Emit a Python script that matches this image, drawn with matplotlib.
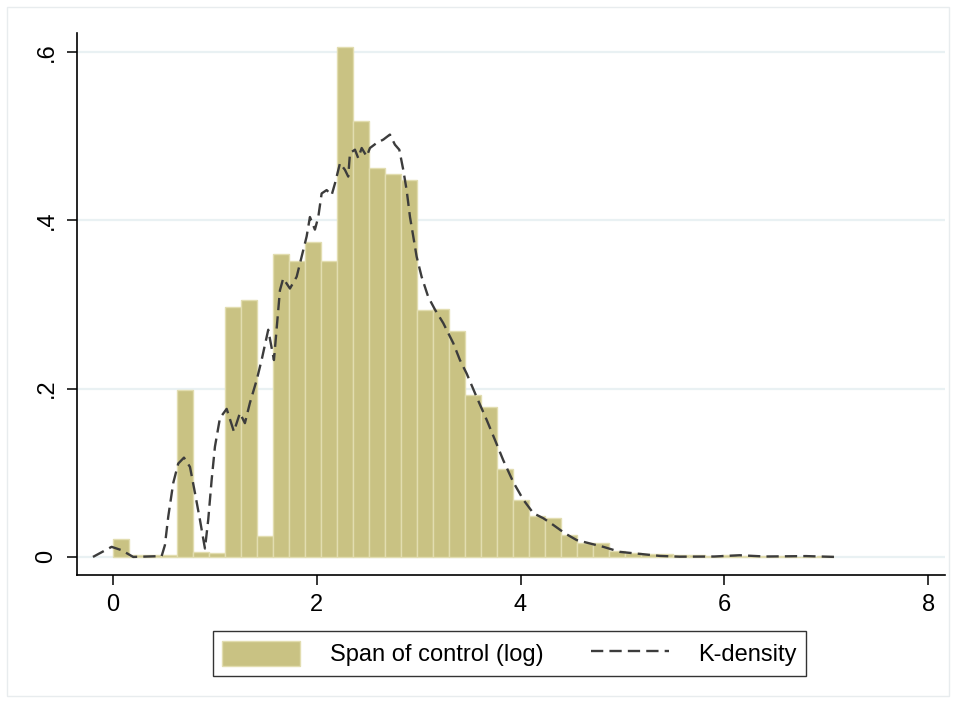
import matplotlib
matplotlib.use("Agg")
import matplotlib.pyplot as plt
import numpy as np
from matplotlib.patches import Rectangle

plt.rcParams['font.family'] = ['Liberation Sans', 'DejaVu Sans']

# histogram of log span of control: 45 bins starting at 0
bin_width = 0.157
bar_heights = [0.021, 0.002, 0.002, 0.002, 0.198, 0.006, 0.005, 0.297, 0.305, 0.025,
               0.360, 0.352, 0.374, 0.352, 0.606, 0.518, 0.462, 0.455, 0.448, 0.294,
               0.295, 0.268, 0.193, 0.178, 0.104, 0.068, 0.049, 0.046, 0.026, 0.017,
               0.017, 0.0075, 0.005, 0.004, 0.003, 0.002, 0.002, 0.001, 0.002, 0.001,
               0.001, 0.001, 0.0005, 0.0005, 0.001]

# kernel density
kd_x = [-0.196, -0.013, 0.085, 0.199, 0.478, 0.510, 0.543, 0.592, 0.641, 0.697,
        0.756, 0.805, 0.854, 0.903, 0.935, 0.969, 1.001, 1.050, 1.116, 1.187,
        1.246, 1.295, 1.344, 1.410, 1.459, 1.524, 1.580, 1.639, 1.671, 1.737,
        1.803, 1.852, 1.901, 1.933, 1.982, 2.015, 2.048, 2.097, 2.146, 2.179,
        2.228, 2.277, 2.309, 2.326, 2.375, 2.407, 2.441, 2.490, 2.522, 2.588,
        2.653, 2.718, 2.767, 2.810, 2.849, 2.882, 2.915, 2.947, 2.980, 3.029,
        3.094, 3.160, 3.241, 3.340, 3.405, 3.471, 3.569, 3.667, 3.749, 3.830,
        3.928, 4.027, 4.125, 4.223, 4.321, 4.436, 4.551, 4.681, 4.812, 4.975,
        5.172, 5.368, 5.560, 5.900, 6.150, 6.400, 6.800, 7.090]
kd_y = [0.000, 0.012, 0.008, 0.000, 0.001, 0.014, 0.048, 0.088, 0.111, 0.118,
        0.107, 0.076, 0.044, 0.010, 0.044, 0.092, 0.131, 0.165, 0.176, 0.149,
        0.171, 0.159, 0.183, 0.210, 0.234, 0.270, 0.234, 0.317, 0.331, 0.319,
        0.333, 0.357, 0.381, 0.404, 0.389, 0.404, 0.432, 0.436, 0.430, 0.444,
        0.468, 0.460, 0.452, 0.480, 0.484, 0.474, 0.486, 0.476, 0.486, 0.492,
        0.496, 0.502, 0.490, 0.484, 0.460, 0.436, 0.404, 0.381, 0.357, 0.333,
        0.309, 0.294, 0.278, 0.254, 0.234, 0.218, 0.190, 0.163, 0.139, 0.115,
        0.089, 0.068, 0.052, 0.046, 0.038, 0.028, 0.020, 0.016, 0.012, 0.006,
        0.0036, 0.0012, 0.0003, 0.0005, 0.002, 0.0005, 0.001, 0.000]

x_ticks = [0, 2, 4, 6, 8]
y_ticks = [0, 0.2, 0.4, 0.6]
y_tick_labels = ['0', '.2', '.4', '.6']

fig = plt.figure(figsize=(9.56, 7.02), dpi=100)
ax = fig.add_axes([0.0805, 0.181, 0.908, 0.772])

# outer graph region frame (Stata style)
fig.patches.append(Rectangle((0.007, 0.009), 0.986, 0.981, transform=fig.transFigure,
                             fill=False, edgecolor='#e8ecee', linewidth=1.0))

for yt in y_ticks:
    ax.axhline(yt, color='#e9f1f3', linewidth=1.6, zorder=0)

bin_left = np.arange(len(bar_heights)) * bin_width
bars = ax.bar(bin_left, bar_heights, width=bin_width, align='edge',
              color='#c9c283', edgecolor='#e2ddb0', linewidth=1.0, zorder=2)
kd_line, = ax.plot(kd_x, kd_y, color='#3c3c3c', linestyle=(0, (5.2, 2.6)),
                   linewidth=1.7, zorder=3)

ax.set_xlim(-0.353, 8.165)
ax.set_ylim(-0.0214, 0.6227)
ax.set_xticks(x_ticks)
ax.set_yticks(y_ticks)
ax.set_yticklabels(y_tick_labels, rotation=90, va='center')
ax.tick_params(axis='both', labelsize=17, length=7, width=1.1, direction='out', color='black')
ax.tick_params(axis='y', pad=7)
ax.tick_params(axis='x', pad=7)

for side in ['top', 'right']:
    ax.spines[side].set_visible(False)
for side in ['left', 'bottom']:
    ax.spines[side].set_linewidth(1.2)
    ax.spines[side].set_color('black')

leg = fig.legend([bars, kd_line], ['Span of control (log)', 'K-density'],
                 loc='center', bbox_to_anchor=(0.533, 0.069), ncol=2,
                 fontsize=17, frameon=True, fancybox=False, edgecolor='black',
                 handlelength=3.3, handleheight=1.25, columnspacing=2.0, handletextpad=1.25,
                 borderpad=0.4, borderaxespad=0)
leg.get_frame().set_linewidth(1.0)

fig.savefig('out.png', dpi=100)
